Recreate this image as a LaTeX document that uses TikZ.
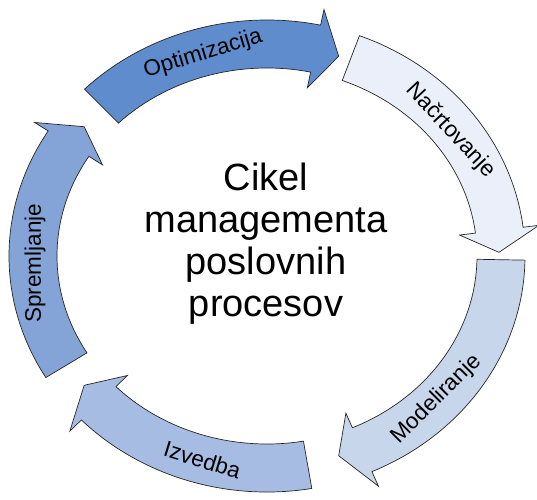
\documentclass[tikz,border=0pt]{standalone}
\usepackage{fontspec}
\setmainfont{Liberation Sans}
\usepackage{tikz}
\usetikzlibrary{calc}
\definecolor{optblue}{RGB}{95,140,205}
\definecolor{nacblue}{RGB}{234,239,249}
\definecolor{modblue}{RGB}{200,214,236}
\definecolor{izvblue}{RGB}{166,188,226}
\definecolor{sprblue}{RGB}{132,163,214}
\tikzset{
  arrowline/.style={draw=black!85,line width=0.7pt,line join=miter},
  steplabel/.style={font=\fontsize{22.5}{26}\selectfont,inner sep=0pt}
}
% curved arrow: tail angle, tip angle, fill colour
\newcommand{\cyclearrow}[3]{%
  \draw[arrowline,fill=#3] (#1:258 and 236)
    arc[start angle=#1,end angle=#2+6,x radius=258,y radius=236]
    -- (#2+6:274 and 252) -- (#2:232 and 210) -- (#2+6:194 and 172)
    -- (#2+6:210 and 188)
    arc[start angle=#2+6,end angle=#1,x radius=210,y radius=188] -- cycle;}

\begin{document}
\begin{tikzpicture}[x=1pt,y=1pt]
      \useasboundingbox (-267,-243) rectangle (270,256);
      % Optimizacija
      \cyclearrow{135}{72}{optblue}
      \node[steplabel,rotate=17] (opt) at (106:232 and 210) {Optimizacija};
      % Nacrtovanje
      \cyclearrow{69}{1}{nacblue}
      \node[steplabel,rotate=-47] (nac) at (37:230 and 208) {Načrtovanje};
      % Modeliranje
      \cyclearrow{-1}{-72}{modblue}
      \node[steplabel,rotate=45] (mod) at (-43:232 and 210) {Modeliranje};
      % Izvedba
      \cyclearrow{-80}{-142}{izvblue}
      \node[steplabel,rotate=-17] (izv) at (-106:234 and 212) {Izvedba};
      % Spremljanje
      \cyclearrow{211}{142}{sprblue}
      \node[steplabel,rotate=90] (spr) at (182:232 and 210) {Spremljanje};
      % centre
      \node[align=center,font=\fontsize{38}{42}\selectfont] (cikel) at (-1,12)
        {Cikel\\managementa\\poslovnih\\procesov};
    \end{tikzpicture}
\end{document}
